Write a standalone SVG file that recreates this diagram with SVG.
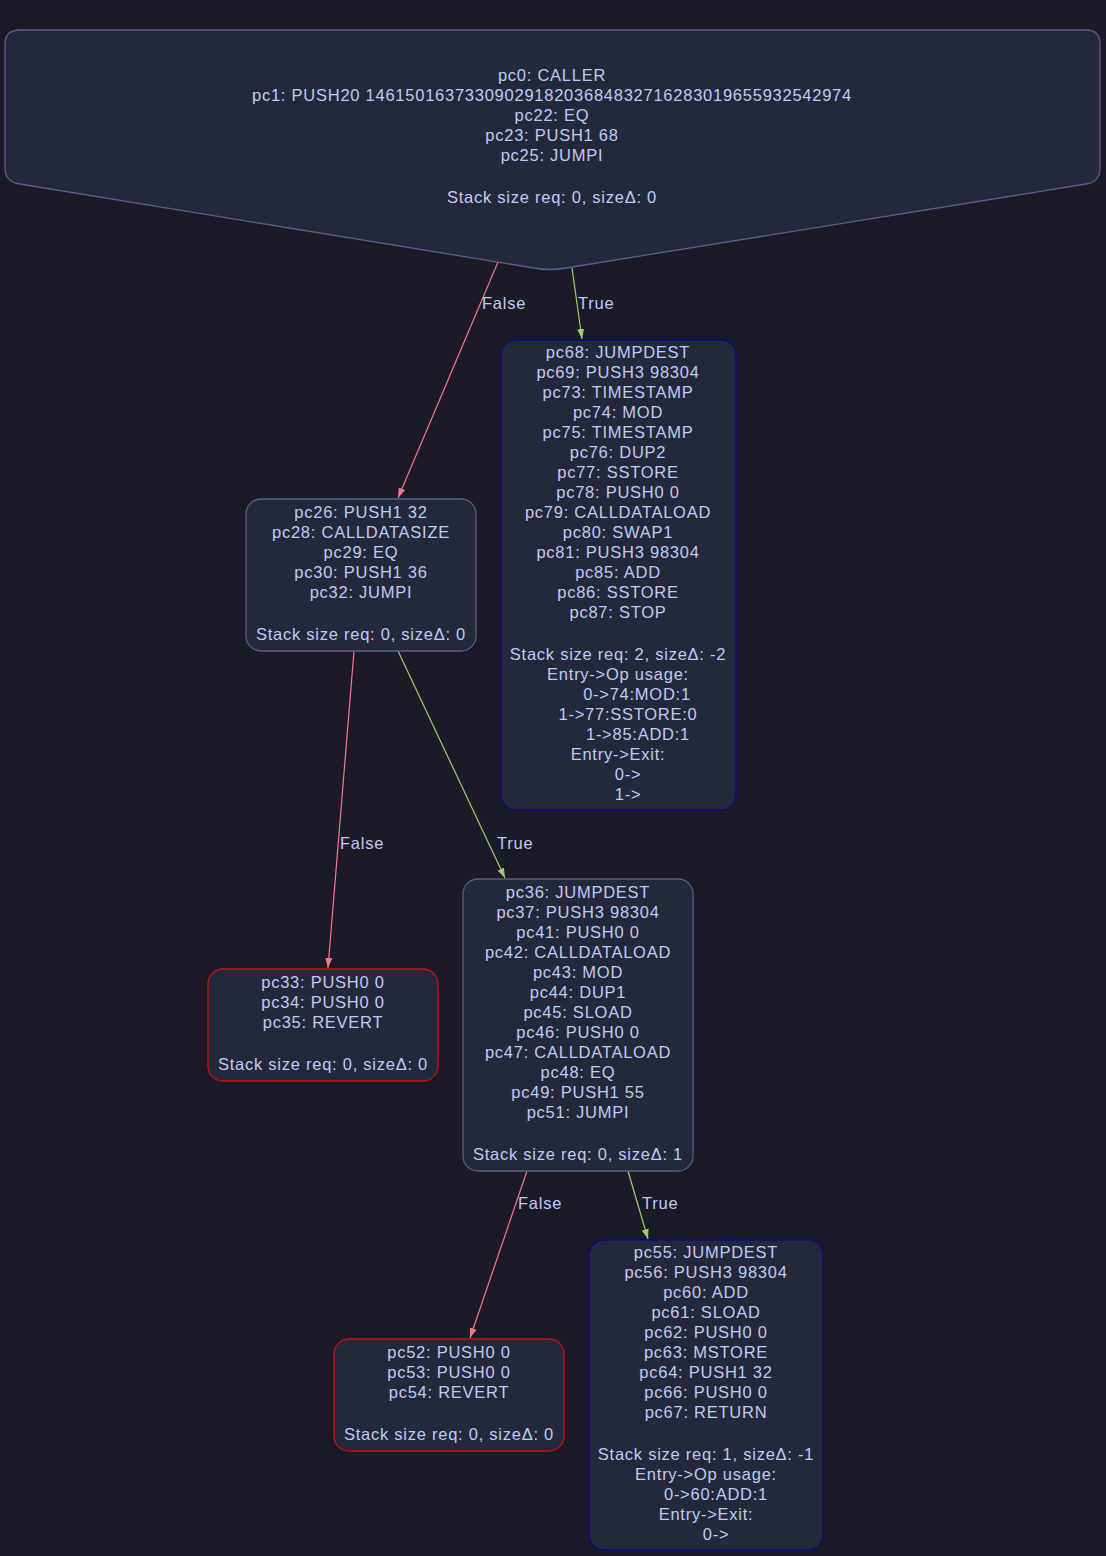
<svg xmlns="http://www.w3.org/2000/svg" width="1106" height="1556" viewBox="0 0 1106 1556">
<style>
text{font-family:"Liberation Sans",Arial,sans-serif;font-size:16.5px;fill:#c0caf5;letter-spacing:0.75px}
.c{text-anchor:middle}
.n{fill:#24283b;stroke-width:1.3}
.g{stroke:#565f89}
.r{stroke:#cc1010}
.b{stroke:#0a0a8c}
.ef{stroke:#f7768e;fill:none;stroke-width:1.2}
.et{stroke:#9ece6a;fill:none;stroke-width:1.2}
</style>
<defs>
<marker id="af" markerWidth="10" markerHeight="10" refX="10" refY="5" orient="auto" markerUnits="userSpaceOnUse"><path d="M0,1.5 L10,5 L0,8.5 Z" fill="#f7768e"/></marker>
<marker id="at" markerWidth="10" markerHeight="10" refX="10" refY="5" orient="auto" markerUnits="userSpaceOnUse"><path d="M0,1.5 L10,5 L0,8.5 Z" fill="#9ece6a"/></marker>
</defs>
<rect width="1106" height="1556" fill="#1a1b26"/>
<g id="edges">
<path class="ef" d="M498,262 L398,498" marker-end="url(#af)"/>
<text x="482" y="309">False</text>
<path class="et" d="M572,268 L582,339" marker-end="url(#at)"/>
<text x="578" y="309">True</text>
<path class="ef" d="M354,651 L328,968" marker-end="url(#af)"/>
<text x="340" y="849">False</text>
<path class="et" d="M398,651 L505,878" marker-end="url(#at)"/>
<text x="497" y="849">True</text>
<path class="ef" d="M527,1171 L470,1338" marker-end="url(#af)"/>
<text x="518" y="1209">False</text>
<path class="et" d="M628,1171 L648,1239" marker-end="url(#at)"/>
<text x="642" y="1209">True</text>
</g>
<g id="node_pc0">
<path class="n g" d="M20,30 H1086 Q1100,30 1100,44 V168 Q1100,182 1086,184 L566,268 Q550,271 534,268 L20,184 Q5,182 5,168 V44 Q5,30 20,30 Z"/>
<text class="c" x="552" y="81">pc0: CALLER</text>
<text class="c" x="552" y="101">pc1: PUSH20 1461501637330902918203684832716283019655932542974</text>
<text class="c" x="552" y="121">pc22: EQ</text>
<text class="c" x="552" y="141">pc23: PUSH1 68</text>
<text class="c" x="552" y="161">pc25: JUMPI</text>
<text class="c" x="552" y="203">Stack size req: 0, sizeΔ: 0</text>
</g>
<g id="node_pc68">
<rect class="n b" x="501" y="340" width="235" height="470" rx="15"/>
<text class="c" x="618" y="358">pc68: JUMPDEST</text>
<text class="c" x="618" y="378">pc69: PUSH3 98304</text>
<text class="c" x="618" y="398">pc73: TIMESTAMP</text>
<text class="c" x="618" y="418">pc74: MOD</text>
<text class="c" x="618" y="438">pc75: TIMESTAMP</text>
<text class="c" x="618" y="458">pc76: DUP2</text>
<text class="c" x="618" y="478">pc77: SSTORE</text>
<text class="c" x="618" y="498">pc78: PUSH0 0</text>
<text class="c" x="618" y="518">pc79: CALLDATALOAD</text>
<text class="c" x="618" y="538">pc80: SWAP1</text>
<text class="c" x="618" y="558">pc81: PUSH3 98304</text>
<text class="c" x="618" y="578">pc85: ADD</text>
<text class="c" x="618" y="598">pc86: SSTORE</text>
<text class="c" x="618" y="618">pc87: STOP</text>
<text class="c" x="618" y="660">Stack size req: 2, sizeΔ: -2</text>
<text class="c" x="618" y="680">Entry-&gt;Op usage:</text>
<text class="c" x="637" y="700">0-&gt;74:MOD:1</text>
<text class="c" x="628" y="720">1-&gt;77:SSTORE:0</text>
<text class="c" x="638" y="740">1-&gt;85:ADD:1</text>
<text class="c" x="618" y="760">Entry-&gt;Exit:</text>
<text class="c" x="628" y="780">0-&gt;</text>
<text class="c" x="628" y="800">1-&gt;</text>
</g>
<g id="node_pc26">
<rect class="n g" x="246" y="499" width="230" height="152" rx="15"/>
<text class="c" x="361" y="518">pc26: PUSH1 32</text>
<text class="c" x="361" y="538">pc28: CALLDATASIZE</text>
<text class="c" x="361" y="558">pc29: EQ</text>
<text class="c" x="361" y="578">pc30: PUSH1 36</text>
<text class="c" x="361" y="598">pc32: JUMPI</text>
<text class="c" x="361" y="640">Stack size req: 0, sizeΔ: 0</text>
</g>
<g id="node_pc33">
<rect class="n r" x="208" y="969" width="230" height="112" rx="15"/>
<text class="c" x="323" y="988">pc33: PUSH0 0</text>
<text class="c" x="323" y="1008">pc34: PUSH0 0</text>
<text class="c" x="323" y="1028">pc35: REVERT</text>
<text class="c" x="323" y="1070">Stack size req: 0, sizeΔ: 0</text>
</g>
<g id="node_pc36">
<rect class="n g" x="463" y="879" width="230" height="292" rx="15"/>
<text class="c" x="578" y="898">pc36: JUMPDEST</text>
<text class="c" x="578" y="918">pc37: PUSH3 98304</text>
<text class="c" x="578" y="938">pc41: PUSH0 0</text>
<text class="c" x="578" y="958">pc42: CALLDATALOAD</text>
<text class="c" x="578" y="978">pc43: MOD</text>
<text class="c" x="578" y="998">pc44: DUP1</text>
<text class="c" x="578" y="1018">pc45: SLOAD</text>
<text class="c" x="578" y="1038">pc46: PUSH0 0</text>
<text class="c" x="578" y="1058">pc47: CALLDATALOAD</text>
<text class="c" x="578" y="1078">pc48: EQ</text>
<text class="c" x="578" y="1098">pc49: PUSH1 55</text>
<text class="c" x="578" y="1118">pc51: JUMPI</text>
<text class="c" x="578" y="1160">Stack size req: 0, sizeΔ: 1</text>
</g>
<g id="node_pc52">
<rect class="n r" x="334" y="1339" width="230" height="112" rx="15"/>
<text class="c" x="449" y="1358">pc52: PUSH0 0</text>
<text class="c" x="449" y="1378">pc53: PUSH0 0</text>
<text class="c" x="449" y="1398">pc54: REVERT</text>
<text class="c" x="449" y="1440">Stack size req: 0, sizeΔ: 0</text>
</g>
<g id="node_pc55">
<rect class="n b" x="589" y="1240" width="234" height="310" rx="15"/>
<text class="c" x="706" y="1258">pc55: JUMPDEST</text>
<text class="c" x="706" y="1278">pc56: PUSH3 98304</text>
<text class="c" x="706" y="1298">pc60: ADD</text>
<text class="c" x="706" y="1318">pc61: SLOAD</text>
<text class="c" x="706" y="1338">pc62: PUSH0 0</text>
<text class="c" x="706" y="1358">pc63: MSTORE</text>
<text class="c" x="706" y="1378">pc64: PUSH1 32</text>
<text class="c" x="706" y="1398">pc66: PUSH0 0</text>
<text class="c" x="706" y="1418">pc67: RETURN</text>
<text class="c" x="706" y="1460">Stack size req: 1, sizeΔ: -1</text>
<text class="c" x="706" y="1480">Entry-&gt;Op usage:</text>
<text class="c" x="716" y="1500">0-&gt;60:ADD:1</text>
<text class="c" x="706" y="1520">Entry-&gt;Exit:</text>
<text class="c" x="716" y="1540">0-&gt;</text>
</g>
</svg>
